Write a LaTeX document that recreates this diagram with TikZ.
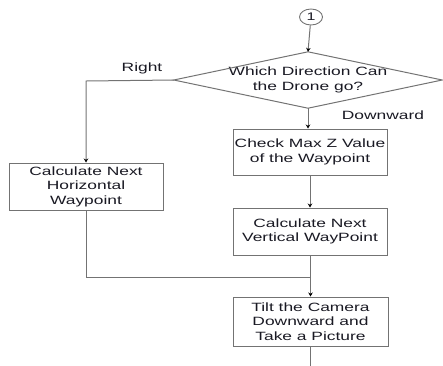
\documentclass[tikz,border=0pt]{standalone}
\usepackage{fontspec}
\setmainfont{Liberation Sans}[FakeStretch=1.45]
\usetikzlibrary{arrows.meta,shapes.geometric}
\definecolor{edge}{RGB}{115,115,115}
\definecolor{ink}{RGB}{25,25,35}
\begin{document}
\begin{tikzpicture}[x=1pt,y=-1pt,
  every node/.style={text=ink, font=\fontsize{12}{14.5}\selectfont},
  procbox/.style={draw=edge, line width=1pt, align=center, inner sep=0pt},
  flow/.style={draw=edge, line width=1pt},
  arr/.style={flow, -{Stealth[length=4pt,width=4.5pt,color=black]}},
  lbl/.style={inner sep=0pt}]
\useasboundingbox (0,0) rectangle (443,365);

% connector start
\node[ellipse, draw=edge, line width=0.9pt, minimum width=23pt, minimum height=16pt,
      inner sep=0pt, font=\fontsize{11}{11}\selectfont] (c1) at (311,17) {1};

% decision
\node[align=center, minimum width=268pt, minimum height=56pt, inner sep=0pt] (dia) at (308,80)
  {Which Direction Can\\the Drone go?};
\draw[flow] (dia.north) -- (dia.east) -- (dia.south) -- (dia.west) -- cycle;

% process steps
\node[procbox, minimum width=154pt, minimum height=46pt] (chk) at (310,152)
  {Check Max Z Value\\of the Waypoint};
\node[procbox, minimum width=154pt, minimum height=47pt] (ver) at (310,231.5)
  {Calculate Next\\Vertical WayPoint};
\node[procbox, minimum width=154pt, minimum height=47pt] (hor) at (86,186.5)
  {Calculate Next\\Horizontal\\Waypoint};
\node[procbox, minimum width=155pt, minimum height=49pt] (tilt) at (310.5,321.5)
  {Tilt the Camera\\Downward and\\Take a Picture};

% branch labels
\node[lbl] (lright) at (142,68) {Right};
\node[lbl] (ldown) at (383,115) {Downward};

% routing points
\coordinate (corner) at (86,81);
\coordinate (merge) at (310.5,277);
\coordinate (tail) at (310.5,366);

% connectors
\draw[arr] (c1) -- (dia.north);
\draw[arr] (dia.south) -- (chk.north -| dia.south);
\draw[arr] (chk) -- (ver);
\draw[arr] (dia.west) -- (corner) -- (hor.north);
\draw[flow] (hor.south) |- (merge);
\draw[arr] (ver.south -| merge) -- (merge) -- (tilt.north);
\draw[flow] (tilt.south) -- (tail);
\end{tikzpicture}
\end{document}
